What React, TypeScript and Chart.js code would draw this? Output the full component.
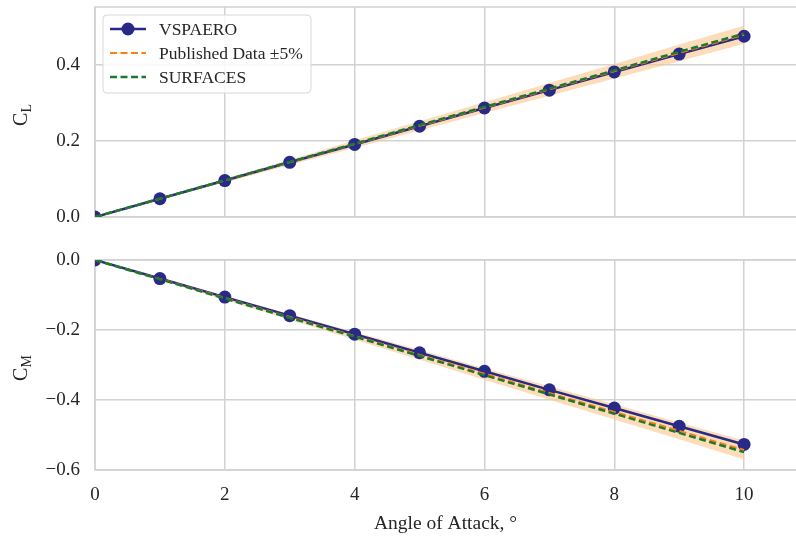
import React, { useEffect, useRef } from "react";
import { Chart, registerables } from "chart.js";

Chart.register(...registerables);

// ---------- data ----------
const alpha = [0, 1, 2, 3, 4, 5, 6, 7, 8, 9, 10];

const vspaeroCL = [0, 0.048, 0.096, 0.144, 0.191, 0.239, 0.287, 0.334, 0.382, 0.429, 0.476];
const publishedCL = [0, 0.048, 0.096, 0.144, 0.192, 0.240, 0.288, 0.336, 0.384, 0.432, 0.480];
const publishedCLLow = [0, 0.046, 0.091, 0.137, 0.182, 0.228, 0.274, 0.319, 0.365, 0.410, 0.456];
const publishedCLHigh = [0, 0.050, 0.101, 0.151, 0.202, 0.252, 0.302, 0.353, 0.403, 0.454, 0.504];
const surfacesCL = [0, 0.0483, 0.0966, 0.145, 0.193, 0.242, 0.290, 0.338, 0.386, 0.435, 0.483];

const vspaeroCM = [0, -0.053, -0.106, -0.159, -0.212, -0.265, -0.318, -0.371, -0.423, -0.475, -0.527];
const publishedCM = [0, -0.054, -0.108, -0.163, -0.217, -0.271, -0.325, -0.380, -0.434, -0.488, -0.543];
const publishedCMLow = [0, -0.057, -0.114, -0.171, -0.228, -0.285, -0.342, -0.399, -0.456, -0.512, -0.570];
const publishedCMHigh = [0, -0.051, -0.103, -0.155, -0.206, -0.257, -0.309, -0.361, -0.412, -0.464, -0.516];
const surfacesCM = [0, -0.055, -0.110, -0.165, -0.219, -0.274, -0.329, -0.384, -0.439, -0.494, -0.549];

const seriesNames = ["VSPAERO", "Published Data \u00b15%", "SURFACES"];
const xTitle = "Angle of Attack, \u00b0";
const yTitleTop = ["C", "L"];
const yTitleBottom = ["C", "M"];

// ---------- styles ----------
const FONT = "'Liberation Serif', 'Times New Roman', serif";
const TEXT = "#262626";
const GRID = "#d2d2d2";
const NAVY = "#272a86";
const ORANGE = "#ff7f0e";
const GREEN = "#1b7a2e";
const BAND = "rgba(252, 196, 140, 0.6)";

const W = 796;
const TOP_H = 238;
const BOT_TOP = 238;
const BOT_H = 536 - 238;

const pts = (ys: number[]) => alpha.map((x, i) => ({ x, y: ys[i] }));

const fmt = (v: number) => {
  const n = Number(v);
  if (n < -1e-9) return "\u2212" + Math.abs(n).toFixed(1);
  return Math.abs(n).toFixed(1);
};

function makeDatasets(v: number[], p: number[], lo: number[], hi: number[], s: number[]) {
  return [
    {
      label: seriesNames[0],
      data: pts(v),
      borderColor: NAVY,
      backgroundColor: NAVY,
      borderWidth: 2.5,
      pointRadius: 6.5,
      pointBorderWidth: 0,
      pointBackgroundColor: NAVY,
      fill: false,
      order: 3,
      clip: 0,
    },
    {
      label: seriesNames[1],
      data: pts(p),
      borderColor: ORANGE,
      borderWidth: 2,
      borderDash: [7, 3.5],
      pointRadius: 0,
      fill: false,
      order: 2,
      clip: 0,
    },
    {
      label: "low",
      data: pts(lo),
      borderWidth: 0,
      borderColor: "rgba(0,0,0,0)",
      pointRadius: 0,
      fill: false,
      order: 10,
      clip: 0,
    },
    {
      label: "high",
      data: pts(hi),
      borderWidth: 0,
      borderColor: "rgba(0,0,0,0)",
      backgroundColor: BAND,
      pointRadius: 0,
      fill: "-1",
      order: 10,
      clip: 0,
    },
    {
      label: seriesNames[2],
      data: pts(s),
      borderColor: GREEN,
      borderWidth: 2.5,
      borderDash: [7, 3.5],
      pointRadius: 0,
      fill: false,
      order: 1,
      clip: 0,
    },
  ];
}

const framePlugin = {
  id: "frame",
  beforeDatasetsDraw(chart: any) {
    const { ctx, chartArea } = chart;
    ctx.save();
    ctx.strokeStyle = GRID;
    ctx.lineWidth = 1.5;
    ctx.strokeRect(chartArea.left, chartArea.top, chartArea.right - chartArea.left + 10, chartArea.bottom - chartArea.top);
    ctx.restore();
  },
};

function yLabelPlugin(parts: string[], x: number) {
  return {
    id: "ylabel",
    afterDraw(chart: any) {
      const { ctx, chartArea } = chart;
      const cy = (chartArea.top + chartArea.bottom) / 2 + 3;
      ctx.save();
      ctx.translate(x, cy);
      ctx.rotate(-Math.PI / 2);
      ctx.fillStyle = TEXT;
      ctx.textBaseline = "alphabetic";
      ctx.font = `20px ${FONT}`;
      const wC = ctx.measureText(parts[0]).width;
      ctx.font = `14px ${FONT}`;
      const wS = ctx.measureText(parts[1]).width;
      const total = wC + wS;
      const sx = -total / 2;
      ctx.font = `20px ${FONT}`;
      ctx.fillText(parts[0], sx, 7);
      ctx.font = `14px ${FONT}`;
      ctx.fillText(parts[1], sx + wC, 11);
      ctx.restore();
    },
  };
}

const legendPlugin = {
  id: "customLegend",
  afterDraw(chart: any) {
    const { ctx } = chart;
    const x0 = 103, y0 = 15, w = 208, h = 78, r = 4;
    ctx.save();
    ctx.beginPath();
    ctx.moveTo(x0 + r, y0);
    ctx.lineTo(x0 + w - r, y0);
    ctx.arcTo(x0 + w, y0, x0 + w, y0 + r, r);
    ctx.lineTo(x0 + w, y0 + h - r);
    ctx.arcTo(x0 + w, y0 + h, x0 + w - r, y0 + h, r);
    ctx.lineTo(x0 + r, y0 + h);
    ctx.arcTo(x0, y0 + h, x0, y0 + h - r, r);
    ctx.lineTo(x0, y0 + r);
    ctx.arcTo(x0, y0, x0 + r, y0, r);
    ctx.closePath();
    ctx.fillStyle = "rgba(255,255,255,0.85)";
    ctx.fill();
    ctx.strokeStyle = "#d8d8d8";
    ctx.lineWidth = 1;
    ctx.stroke();

    const rows = [29, 53, 77];
    const colors = [NAVY, ORANGE, GREEN];
    rows.forEach((y, i) => {
      ctx.save();
      ctx.strokeStyle = colors[i];
      ctx.lineWidth = i === 1 ? 2 : 2.5;
      ctx.setLineDash(i === 0 ? [] : [7, 3.5]);
      ctx.beginPath();
      ctx.moveTo(110, y);
      ctx.lineTo(146, y);
      ctx.stroke();
      ctx.restore();
      if (i === 0) {
        ctx.fillStyle = NAVY;
        ctx.beginPath();
        ctx.arc(128, y, 6.5, 0, Math.PI * 2);
        ctx.fill();
      }
      ctx.fillStyle = TEXT;
      ctx.font = `17.5px ${FONT}`;
      ctx.textBaseline = "middle";
      ctx.fillText(seriesNames[i], 159, y + 1);
    });
    ctx.restore();
  },
};

function baseOptions(yMin: number, yMax: number, showX: boolean, xHeight: number, padTop: number) {
  return {
    animation: false,
    responsive: false,
    maintainAspectRatio: false,
    layout: { autoPadding: false, padding: { top: padTop, left: 0, right: 0, bottom: 0 } },
    plugins: { legend: { display: false }, tooltip: { enabled: false } },
    scales: {
      x: {
        type: "linear",
        min: 0,
        max: 10.8,
        border: { display: false },
        grid: { color: GRID, lineWidth: 1.5, drawTicks: false },
        ticks: {
          display: showX,
          stepSize: 2,
          includeBounds: false,
          padding: 14,
          color: TEXT,
          font: { family: FONT, size: 19 },
          callback: (v: any) => String(v),
        },
        title: {
          display: showX,
          text: xTitle,
          color: TEXT,
          font: { family: FONT, size: 19.5 },
          padding: { top: 0, bottom: 0 },
        },
        afterFit: (s: any) => {
          s.height = xHeight;
          s.paddingLeft = 0;
          s.paddingRight = 0;
        },
      },
      y: {
        type: "linear",
        min: yMin,
        max: yMax,
        border: { display: false },
        grid: { color: GRID, lineWidth: 1.5, drawTicks: false },
        ticks: {
          stepSize: 0.2,
          includeBounds: false,
          padding: 15,
          color: TEXT,
          font: { family: FONT, size: 19 },
          callback: (v: any) => fmt(v),
        },
        afterFit: (s: any) => {
          s.width = 95;
          s.paddingTop = 0;
          s.paddingBottom = 0;
        },
      },
    },
  };
}

export default function App() {
  const topRef = useRef<HTMLCanvasElement>(null);
  const botRef = useRef<HTMLCanvasElement>(null);

  useEffect(() => {
    const top = new Chart(topRef.current as HTMLCanvasElement, {
      type: "line",
      data: { datasets: makeDatasets(vspaeroCL, publishedCL, publishedCLLow, publishedCLHigh, surfacesCL) as any },
      options: baseOptions(0, 0.553, false, TOP_H - 217, 7) as any,
      plugins: [framePlugin, yLabelPlugin(yTitleTop, 20), legendPlugin],
    });
    const bot = new Chart(botRef.current as HTMLCanvasElement, {
      type: "line",
      data: { datasets: makeDatasets(vspaeroCM, publishedCM, publishedCMLow, publishedCMHigh, surfacesCM) as any },
      options: baseOptions(-0.6, 0, true, BOT_H - (470 - BOT_TOP), 260 - BOT_TOP) as any,
      plugins: [framePlugin, yLabelPlugin(yTitleBottom, 20)],
    });
    return () => {
      top.destroy();
      bot.destroy();
    };
  }, []);

  return (
    <div style={{ position: "absolute", left: 0, top: 0, width: W, height: 536, background: "#fff" }}>
      <canvas ref={topRef} width={W} height={TOP_H} style={{ position: "absolute", left: 0, top: 0, width: W, height: TOP_H }} />
      <canvas ref={botRef} width={W} height={BOT_H} style={{ position: "absolute", left: 0, top: BOT_TOP, width: W, height: BOT_H }} />
    </div>
  );
}
